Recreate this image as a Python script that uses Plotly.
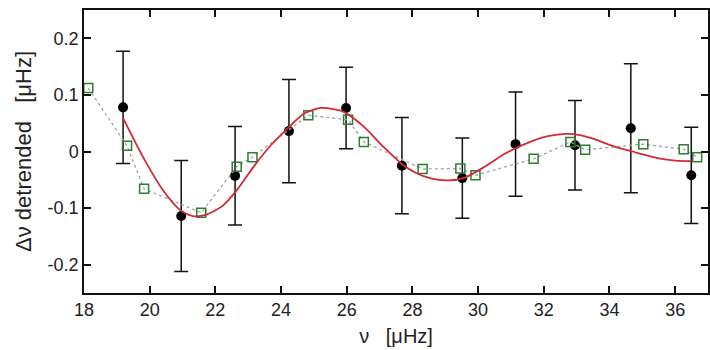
import plotly.graph_objects as go

# Black points with error bars
nu_pts = [19.19, 20.96, 22.6, 24.24, 25.98, 27.68, 29.52, 31.14, 32.95, 34.65, 36.49]
dv_pts = [0.078, -0.114, -0.043, 0.036, 0.077, -0.025, -0.047, 0.013, 0.011, 0.041, -0.042]
dv_err = [0.099, 0.098, 0.087, 0.091, 0.072, 0.085, 0.071, 0.092, 0.079, 0.114, 0.085]

# Green squares (dotted)
nu_sq = [18.13, 19.31, 19.83, 21.57, 22.65, 23.13, 24.83, 26.04, 26.52, 28.31, 29.46,
         29.92, 31.69, 32.81, 33.26, 35.03, 36.26, 36.67]
dv_sq = [0.112, 0.010, -0.066, -0.108, -0.027, -0.010, 0.064, 0.056, 0.017, -0.031, -0.030,
         -0.042, -0.013, 0.017, 0.003, 0.013, 0.004, -0.010]

# Red fitted curve
nu_fit = [19.19, 19.8, 20.4, 20.94, 21.31, 21.7, 22.22, 22.63, 23.2, 23.69, 24.24, 24.7,
          25.2, 25.6, 25.91, 26.52, 27.12, 27.68, 28.08, 28.59, 29.09, 29.6, 30.2, 30.81,
          31.62, 32.12, 32.68, 33.1, 33.48, 34.09, 34.7, 35.5, 36.0, 36.5]
dv_fit = [0.059, -0.010, -0.068, -0.104, -0.114, -0.112, -0.096, -0.070, -0.024, 0.011,
          0.043, 0.067, 0.077, 0.075, 0.070, 0.044, 0.008, -0.022, -0.037, -0.048, -0.051,
          -0.046, -0.027, -0.004, 0.018, 0.027, 0.031, 0.029, 0.023, 0.010, 0.000, -0.012,
          -0.016, -0.017]

x_ticks = [18, 20, 22, 24, 26, 28, 30, 32, 34, 36]
y_ticks = [-0.2, -0.1, 0, 0.1, 0.2]
y_ticktext = ["-0.2", "-0.1", "0", "0.1", "0.2"]

fig = go.Figure()
fig.add_trace(go.Scatter(
    x=nu_pts, y=dv_pts, mode="markers",
    marker=dict(color="black", size=10),
    error_y=dict(type="data", array=dv_err, color="#111", thickness=1.5, width=7),
    showlegend=False))
fig.add_trace(go.Scatter(
    x=nu_sq, y=dv_sq, mode="lines+markers",
    line=dict(color="#93ab9c", width=1.3, dash="dot"),
    marker=dict(symbol="square-open", size=9, color="#2e7d32", line=dict(width=1.5)),
    showlegend=False))
fig.add_trace(go.Scatter(
    x=nu_fit, y=dv_fit, mode="lines",
    line=dict(color="#d42a35", width=1.8, shape="spline", smoothing=0.7),
    showlegend=False))

font = dict(family="Liberation Sans, Arial, sans-serif", size=18, color="#222")
fig.update_layout(
    width=710, height=350,
    margin=dict(l=84, r=0, t=10, b=57),
    paper_bgcolor="white", plot_bgcolor="white",
    font=font,
    xaxis=dict(range=[18, 37], tickvals=x_ticks, ticks="inside", ticklen=7,
               tickwidth=1.5, tickcolor="#111", showline=True, linecolor="#111",
               linewidth=1.5, mirror="ticks", showgrid=False, zeroline=False,
               title=dict(text="ν   [μHz]", standoff=10, font=dict(size=20))),
    yaxis=dict(range=[-0.25, 0.25], tickvals=y_ticks, ticktext=y_ticktext,
               ticks="inside", ticklen=7, tickwidth=1.5, tickcolor="#111",
               showline=True, linecolor="#111", linewidth=1.5, mirror="ticks",
               showgrid=False, zeroline=False,
               title=dict(text="Δν detrended   [μHz]", standoff=10, font=dict(size=22))),
)
fig.write_html("out.html")
